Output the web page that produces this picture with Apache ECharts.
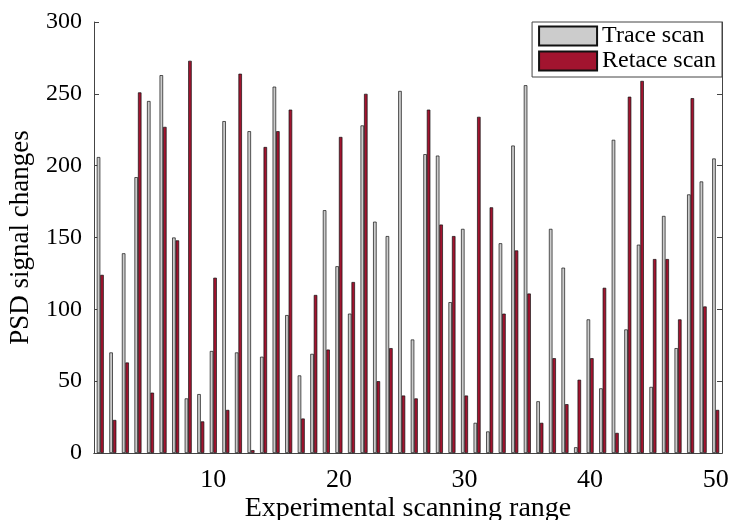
<!DOCTYPE html>
<html>
<head>
<meta charset="utf-8">
<script src="https://cdn.jsdelivr.net/npm/echarts@6/dist/echarts.min.js"></script>
<style>
html, body { margin: 0; padding: 0; background: #fff; }
#main { width: 731px; height: 520px; }
</style>
</head>
<body>
<div id="main"></div>
<script>
// 扫描位置 1..50
var positions = [];
for (var i = 1; i <= 50; i++) positions.push(String(i));

// 正向扫描 (Trace scan)
var traceScan = [206, 70, 139, 192, 245, 263, 150, 38, 41, 71,
                 231, 70, 224, 67, 255, 96, 54, 69, 169, 130,
                 97, 228, 161, 151, 252, 79, 208, 207, 105, 156,
                 21, 15, 146, 214, 256, 36, 156, 129, 4, 93,
                 45, 218, 86, 145, 46, 165, 73, 180, 189, 205];

// 反向扫描 (Retace scan)
var retaceScan = [124, 23, 63, 251, 42, 227, 148, 273, 22, 122,
                  30, 264, 2, 213, 224, 239, 24, 110, 72, 220,
                  119, 250, 50, 73, 40, 38, 239, 159, 151, 40,
                  234, 171, 97, 141, 111, 21, 66, 34, 51, 66,
                  115, 14, 248, 259, 135, 135, 93, 247, 102, 30];

var yTicks = [0, 50, 100, 150, 200, 250, 300];

var serif = 'Liberation Serif';
var axisColor = '#444';

var myChart = echarts.init(document.getElementById('main'));

// 每10个显示一个刻度
var everyTen = function (index) { return (index + 1) % 10 === 0; };

var option = {
    animation: false,
    backgroundColor: '#fff',
    grid: { left: 94, right: 9, top: 22, bottom: 67, containLabel: false, outerBoundsMode: 'none' },
    legend: {
        orient: 'vertical',
        right: 9,
        top: 22,
        itemWidth: 58,
        itemHeight: 19,
        itemGap: 1,
        padding: [2, 6, 4, 6],
        borderColor: axisColor,
        borderWidth: 1,
        backgroundColor: '#fff',
        icon: 'rect',
        textStyle: { fontFamily: serif, fontSize: 24, color: '#000' },
        data: ['Trace scan', 'Retace scan']
    },
    xAxis: [{
        type: 'category',
        data: positions,
        position: 'bottom',
        name: 'Experimental scanning range',
        nameLocation: 'middle',
        nameGap: 42,
        nameMoveOverlap: false,
        nameTextStyle: { fontFamily: serif, fontSize: 28, color: '#000' },
        axisLine: { lineStyle: { color: axisColor } },
        axisTick: { inside: true, length: 5, alignWithLabel: true, interval: everyTen, lineStyle: { color: axisColor } },
        axisLabel: { interval: everyTen, fontFamily: serif, fontSize: 26, color: '#000', margin: 14 },
        splitLine: { show: false }
    }, {
        type: 'category',
        data: positions,
        position: 'top',
        axisLine: { lineStyle: { color: axisColor } },
        axisTick: { inside: true, length: 5, alignWithLabel: true, interval: everyTen, lineStyle: { color: axisColor } },
        axisLabel: { show: false },
        splitLine: { show: false }
    }],
    yAxis: [{
        type: 'value',
        min: 0,
        max: 300,
        interval: 50,
        name: 'PSD signal changes',
        nameLocation: 'middle',
        nameGap: 60,
        nameMoveOverlap: false,
        nameTextStyle: { fontFamily: serif, fontSize: 27, color: '#000' },
        axisLine: { show: true, lineStyle: { color: axisColor } },
        axisTick: { show: true, inside: true, length: 5, lineStyle: { color: axisColor } },
        axisLabel: {
            fontFamily: serif, fontSize: 24, color: '#000', margin: 12,
            customValues: yTicks
        },
        splitLine: { show: false }
    }, {
        type: 'value',
        min: 0,
        max: 300,
        interval: 50,
        position: 'right',
        axisLine: { show: true, lineStyle: { color: axisColor } },
        axisTick: { show: true, inside: true, length: 5, lineStyle: { color: axisColor } },
        axisLabel: { show: false },
        splitLine: { show: false }
    }],
    series: [{
        name: 'Trace scan',
        type: 'bar',
        data: traceScan,
        barWidth: 3.5,
        barGap: '0%',
        itemStyle: { color: '#cccccc', borderColor: '#111', borderWidth: 0.7 }
    }, {
        name: 'Retace scan',
        type: 'bar',
        data: retaceScan,
        barWidth: 3.5,
        barGap: '0%',
        itemStyle: { color: '#a2142f', borderColor: '#111', borderWidth: 0.7 }
    }]
};

myChart.setOption(option);
</script>
</body>
</html>
